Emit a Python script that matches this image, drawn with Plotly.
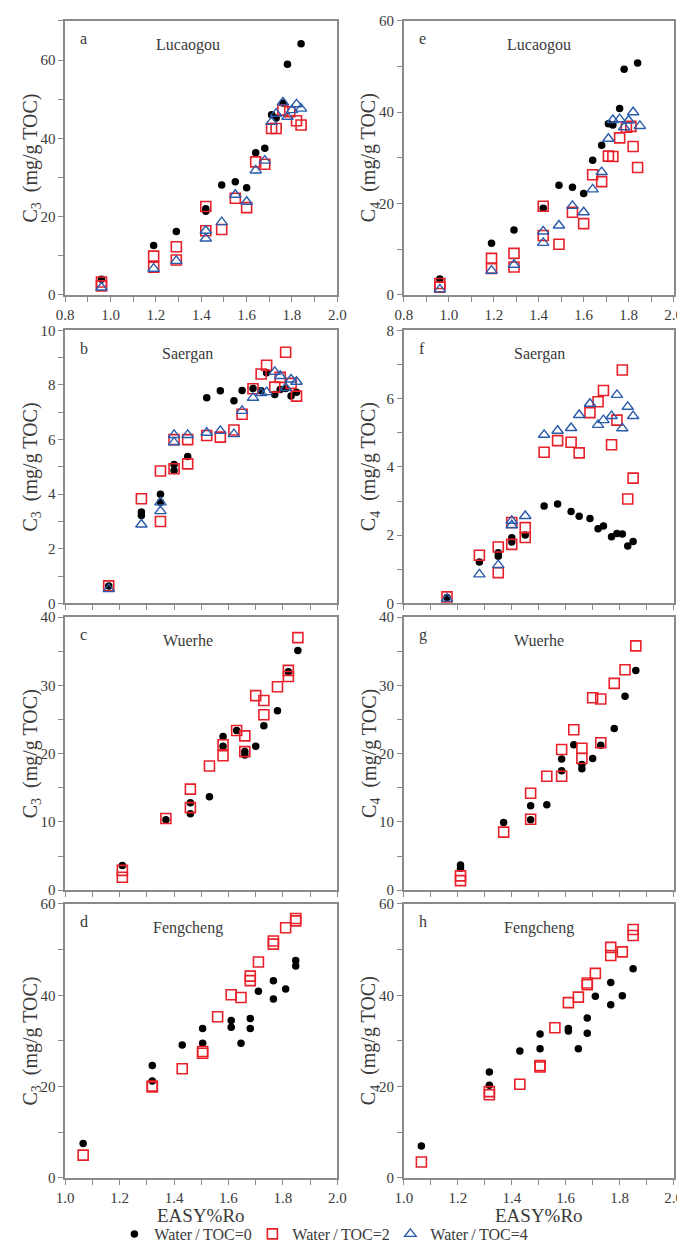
import plotly.graph_objects as go

W, H = 685, 1243

# ---------------- Data ----------------
# Lucaogou (a: C3, e: C4)
a_x0 = [0.96, 1.19, 1.29, 1.42, 1.42, 1.49, 1.55, 1.60, 1.64, 1.68, 1.71, 1.73, 1.76, 1.78, 1.84]
a_y0 = [4.0, 12.6, 16.2, 22.0, 21.4, 28.1, 28.9, 27.4, 36.3, 37.5, 46.0, 45.2, 49.0, 58.9, 64.2]
a_x2 = [0.96, 0.96, 1.19, 1.19, 1.29, 1.29, 1.42, 1.42, 1.49, 1.55, 1.60, 1.64, 1.68, 1.71, 1.73, 1.76, 1.79, 1.82, 1.84]
a_y2 = [3.3, 2.3, 9.9, 7.1, 12.3, 8.9, 22.6, 16.4, 16.7, 24.7, 22.3, 34.0, 33.4, 42.5, 42.5, 47.2, 46.8, 44.5, 43.4]
a_x4 = [0.96, 1.19, 1.29, 1.42, 1.42, 1.49, 1.55, 1.60, 1.64, 1.68, 1.71, 1.73, 1.76, 1.78, 1.80, 1.82, 1.84]
a_y4 = [1.9, 6.7, 8.7, 16.4, 14.4, 18.6, 25.6, 23.8, 31.8, 34.3, 44.2, 46.3, 49.2, 45.5, 47.2, 48.7, 47.6]

e_x0 = [0.96, 1.19, 1.29, 1.42, 1.49, 1.55, 1.60, 1.64, 1.68, 1.71, 1.73, 1.76, 1.78, 1.84]
e_y0 = [3.5, 11.3, 14.2, 19.0, 24.0, 23.6, 22.2, 29.5, 32.8, 37.5, 37.2, 40.8, 49.4, 50.8]
e_x2 = [0.96, 0.96, 1.19, 1.19, 1.29, 1.29, 1.42, 1.42, 1.49, 1.55, 1.60, 1.64, 1.68, 1.71, 1.73, 1.76, 1.79, 1.81, 1.82, 1.84]
e_y2 = [2.5, 1.7, 8.0, 5.8, 9.1, 6.1, 19.4, 13.0, 11.1, 18.1, 15.6, 26.3, 24.8, 30.4, 30.3, 34.4, 36.7, 36.9, 32.5, 27.9]
e_x4 = [0.96, 1.19, 1.29, 1.42, 1.42, 1.49, 1.55, 1.60, 1.64, 1.68, 1.71, 1.73, 1.76, 1.78, 1.80, 1.82, 1.85]
e_y4 = [1.2, 5.3, 6.6, 13.9, 11.4, 15.2, 19.5, 18.1, 23.1, 26.9, 34.2, 38.3, 38.5, 36.7, 38.2, 40.0, 37.0]

# Saergan (b: C3, f: C4)
b_x0 = [1.16, 1.28, 1.28, 1.35, 1.35, 1.40, 1.40, 1.45, 1.52, 1.57, 1.62, 1.65, 1.69, 1.72, 1.74, 1.77, 1.79, 1.81, 1.83, 1.85]
b_y0 = [0.64, 3.35, 3.22, 4.0, 3.7, 5.09, 4.87, 5.38, 7.53, 7.79, 7.42, 7.80, 7.87, 7.79, 8.45, 7.65, 7.83, 7.87, 7.6, 7.73]
b_x2 = [1.16, 1.28, 1.35, 1.35, 1.40, 1.40, 1.45, 1.45, 1.52, 1.57, 1.62, 1.65, 1.69, 1.72, 1.74, 1.77, 1.79, 1.81, 1.83, 1.85]
b_y2 = [0.64, 3.83, 4.85, 3.0, 6.0, 4.93, 6.0, 5.11, 6.15, 6.09, 6.35, 6.93, 7.86, 8.4, 8.72, 7.92, 8.28, 9.2, 8.06, 7.59]
b_x4 = [1.16, 1.28, 1.35, 1.35, 1.40, 1.40, 1.45, 1.52, 1.57, 1.62, 1.65, 1.69, 1.72, 1.74, 1.77, 1.79, 1.81, 1.83, 1.85]
b_y4 = [0.52, 2.89, 3.7, 3.38, 6.17, 5.9, 6.17, 6.25, 6.32, 6.2, 7.05, 7.53, 7.7, 7.74, 8.48, 8.33, 7.89, 8.2, 8.12]

f_x0 = [1.16, 1.28, 1.35, 1.35, 1.40, 1.40, 1.45, 1.52, 1.57, 1.62, 1.65, 1.69, 1.72, 1.74, 1.77, 1.79, 1.81, 1.83, 1.85]
f_y0 = [0.17, 1.21, 1.38, 1.48, 1.92, 1.80, 2.0, 2.85, 2.91, 2.69, 2.55, 2.49, 2.19, 2.27, 1.95, 2.05, 2.03, 1.68, 1.81]
f_x2 = [1.16, 1.28, 1.35, 1.35, 1.40, 1.40, 1.45, 1.45, 1.52, 1.57, 1.62, 1.65, 1.69, 1.72, 1.74, 1.77, 1.79, 1.81, 1.83, 1.85]
f_y2 = [0.19, 1.41, 1.65, 0.9, 2.37, 1.73, 2.22, 1.93, 4.43, 4.77, 4.72, 4.41, 5.59, 5.91, 6.24, 4.65, 5.37, 6.84, 3.06, 3.67]
f_x4 = [1.16, 1.28, 1.35, 1.40, 1.40, 1.45, 1.52, 1.57, 1.62, 1.65, 1.69, 1.72, 1.74, 1.77, 1.79, 1.81, 1.83, 1.85]
f_y4 = [0.14, 0.85, 1.12, 2.42, 2.29, 2.56, 4.94, 5.06, 5.14, 5.52, 5.85, 5.23, 5.37, 5.49, 6.11, 5.13, 5.76, 5.49]

# Wuerhe (c: C3, g: C4)
c_x0 = [1.21, 1.37, 1.46, 1.46, 1.53, 1.58, 1.58, 1.63, 1.66, 1.66, 1.70, 1.73, 1.78, 1.82, 1.855]
c_y0 = [3.6, 10.3, 12.8, 11.2, 13.7, 22.5, 21.1, 23.4, 20.3, 19.8, 21.1, 24.1, 26.3, 32.0, 35.1]
c_x2 = [1.21, 1.21, 1.37, 1.46, 1.46, 1.53, 1.58, 1.58, 1.63, 1.66, 1.66, 1.70, 1.73, 1.73, 1.78, 1.82, 1.82, 1.855]
c_y2 = [2.9, 1.9, 10.5, 14.8, 12.1, 18.2, 21.3, 19.7, 23.4, 22.6, 20.3, 28.5, 27.8, 25.7, 29.8, 32.2, 31.3, 37.0]

g_x0 = [1.21, 1.21, 1.37, 1.47, 1.47, 1.53, 1.585, 1.585, 1.63, 1.66, 1.66, 1.70, 1.73, 1.78, 1.82, 1.86]
g_y0 = [3.7, 3.2, 9.9, 12.35, 10.3, 12.5, 19.2, 17.5, 21.3, 18.4, 17.8, 19.3, 21.25, 23.7, 28.4, 32.2]
g_x2 = [1.21, 1.21, 1.37, 1.47, 1.47, 1.53, 1.585, 1.585, 1.63, 1.66, 1.66, 1.70, 1.73, 1.73, 1.78, 1.82, 1.86]
g_y2 = [2.1, 1.4, 8.5, 14.2, 10.4, 16.7, 20.6, 16.7, 23.5, 20.8, 19.3, 28.2, 28.0, 21.6, 30.3, 32.3, 35.8]

# Fengcheng (d: C3, h: C4)
d_x0 = [1.066, 1.32, 1.32, 1.43, 1.505, 1.505, 1.61, 1.61, 1.646, 1.68, 1.68, 1.71, 1.765, 1.765, 1.81, 1.847, 1.847]
d_y0 = [7.55, 24.6, 21.2, 29.1, 32.7, 29.5, 34.5, 33.0, 29.5, 34.9, 32.7, 40.9, 43.2, 39.2, 41.4, 47.6, 46.4]
d_x2 = [1.066, 1.32, 1.32, 1.43, 1.505, 1.505, 1.56, 1.61, 1.646, 1.68, 1.68, 1.71, 1.765, 1.765, 1.81, 1.847, 1.847]
d_y2 = [5.0, 20.1, 19.9, 23.9, 27.7, 27.3, 35.3, 40.1, 39.5, 44.2, 43.2, 47.3, 51.9, 51.2, 54.8, 56.8, 56.3]

h_x0 = [1.065, 1.317, 1.317, 1.43, 1.505, 1.505, 1.61, 1.61, 1.647, 1.68, 1.68, 1.71, 1.767, 1.767, 1.81, 1.85]
h_y0 = [7.0, 23.2, 20.3, 27.8, 31.5, 28.3, 32.7, 32.2, 28.3, 35.0, 31.7, 39.8, 42.8, 37.9, 39.9, 45.8]
h_x2 = [1.065, 1.317, 1.317, 1.43, 1.505, 1.505, 1.56, 1.61, 1.647, 1.68, 1.68, 1.71, 1.767, 1.767, 1.81, 1.85, 1.85]
h_y2 = [3.5, 18.9, 18.2, 20.5, 24.6, 24.3, 32.9, 38.4, 39.6, 42.7, 42.3, 44.8, 50.5, 48.7, 49.5, 54.4, 53.1]

series_names = ["Water\u2009/\u2009TOC=0", "Water\u2009/\u2009TOC=2", "Water\u2009/\u2009TOC=4"]
panel_letters = ["a", "b", "c", "d", "e", "f", "g", "h"]
basins = ["Lucaogou", "Saergan", "Wuerhe", "Fengcheng"]

# ---------------- Styles ----------------
FONT = "Liberation Serif"
TXT = "#3a3a3a"
AXC = "#8a8a8a"
RED = "#e8202a"
BLUE = "#2a5caa"

styles = [
    dict(symbol="circle", size=7.5, color="black", line=dict(width=0)),
    dict(symbol="square-open", size=10, color=RED, line=dict(width=1.6, color=RED)),
    dict(symbol="triangle-up-open", size=10, color=BLUE, line=dict(width=1.4, color=BLUE)),
]

panels = [
    # letter, axis idx, series list, x range, y range, y major, y minor, ylabel sub, xlabels
    ("a", 1, [(a_x0, a_y0), (a_x2, a_y2), (a_x4, a_y4)], [0.8, 2.0], [0, 70], 20, 10, "3", True),
    ("b", 2, [(b_x0, b_y0), (b_x2, b_y2), (b_x4, b_y4)], [1.0, 2.0], [0, 10], 2, 1, "3", False),
    ("c", 3, [(c_x0, c_y0), (c_x2, c_y2)], [1.0, 2.0], [0, 40], 10, 5, "3", False),
    ("d", 4, [(d_x0, d_y0), (d_x2, d_y2)], [1.0, 2.0], [0, 60], 20, 10, "3", True),
    ("e", 5, [(e_x0, e_y0), (e_x2, e_y2), (e_x4, e_y4)], [0.8, 2.0], [0, 60], 20, 10, "4", True),
    ("f", 6, [(f_x0, f_y0), (f_x2, f_y2), (f_x4, f_y4)], [1.0, 2.0], [0, 8], 2, 1, "4", False),
    ("g", 7, [(g_x0, g_y0), (g_x2, g_y2)], [1.0, 2.0], [0, 40], 10, 5, "4", False),
    ("h", 8, [(h_x0, h_y0), (h_x2, h_y2)], [1.0, 2.0], [0, 60], 20, 10, "4", True),
]

# pixel geometry of the plot areas (left, right, top, bottom)
col_px = {0: (49.5, 329.0), 1: (397.3, 674.3)}
row_px = [(5, 283), (319, 596), (610, 887), (901, 1179)]

fig = go.Figure()
layout = dict(
    width=W, height=H, margin=dict(l=0, r=0, t=0, b=0),
    paper_bgcolor="white", plot_bgcolor="white",
    font=dict(family=FONT, color=TXT, size=15),
    showlegend=True,
)
annotations = []

for i, (letter, k, series, xr, yr, ymaj, ymin, sub, xlab) in enumerate(panels):
    col = 0 if k <= 4 else 1
    row = (k - 1) % 4
    l, r = col_px[col]
    t, b = row_px[row]
    xs = "x" if k == 1 else f"x{k}"
    ys = "y" if k == 1 else f"y{k}"
    for j, (xv, yv) in enumerate(series):
        fig.add_trace(go.Scatter(
            x=xv, y=yv, mode="markers", xaxis=xs, yaxis=ys,
            marker=styles[j], name=series_names[j], legendgroup=series_names[j],
            showlegend=(k == 1), cliponaxis=False,
        ))
    xa = dict(
        domain=[l / W, r / W], range=xr, anchor=ys,
        showline=True, linecolor=AXC, linewidth=1.5, mirror=True,
        ticks="outside", ticklen=5, tickwidth=1.2, tickcolor=AXC,
        dtick=0.2, tick0=0.8, tickformat=".1f",
        minor=dict(dtick=0.1, tick0=0.8, ticks="outside", ticklen=5, tickwidth=1.2, tickcolor=AXC),
        showgrid=False, zeroline=False, showticklabels=xlab,
        tickfont=dict(size=15, color=TXT, family=FONT),
        fixedrange=True,
    )
    ya = dict(
        domain=[1 - b / H, 1 - t / H], range=yr, anchor=xs,
        showline=True, linecolor=AXC, linewidth=1.5, mirror=True,
        ticks="outside", ticklen=5, tickwidth=1.2, tickcolor=AXC,
        dtick=ymaj, tick0=0,
        minor=dict(dtick=ymin, tick0=0, ticks="outside", ticklen=5, tickwidth=1.2, tickcolor=AXC),
        showgrid=False, zeroline=False,
        tickfont=dict(size=15, color=TXT, family=FONT),
        fixedrange=True,
    )
    layout["xaxis" if k == 1 else f"xaxis{k}"] = xa
    layout["yaxis" if k == 1 else f"yaxis{k}"] = ya

    # x title
    if letter in ("d", "h"):
        annotations.append(dict(
            text="EASY%Ro", xref="paper", yref="paper",
            x=(l + r) / 2 / W, y=1 - 1217 / H, xanchor="center", yanchor="middle",
            showarrow=False, font=dict(size=19, color=TXT, family=FONT),
        ))
    # y title
    annotations.append(dict(
        text=f"C<sub>{sub}</sub>  (mg/g TOC)", textangle=-90,
        xref="paper", yref="paper", x=(l - 34.5) / W, y=1 - (t + b) / 2 / H,
        xanchor="center", yanchor="middle", showarrow=False,
        font=dict(size=20, color=TXT, family=FONT),
    ))
    # panel letter
    annotations.append(dict(
        text=letter, xref="paper", yref="paper",
        x=(l + 13) / W, y=1 - (t + 18) / H, xanchor="left", yanchor="middle",
        showarrow=False, font=dict(size=16, color=TXT, family=FONT),
    ))
    # basin name
    annotations.append(dict(
        text=basins[row], xref="paper", yref="paper",
        x=(l + 126) / W if col == 0 else (l + 139) / W, y=1 - (t + 24) / H,
        xanchor="center", yanchor="middle",
        showarrow=False, font=dict(size=16, color=TXT, family=FONT),
    ))

layout["annotations"] = annotations
layout["legend"] = dict(
    orientation="h", x=100 / W, y=1 - 1236 / H, xanchor="left", yanchor="middle",
    font=dict(size=16, color=TXT, family=FONT), bgcolor="rgba(0,0,0,0)",
    entrywidth=93, entrywidthmode="pixels", itemwidth=30,
)
fig.update_layout(**layout)
fig.write_html("out.html")
